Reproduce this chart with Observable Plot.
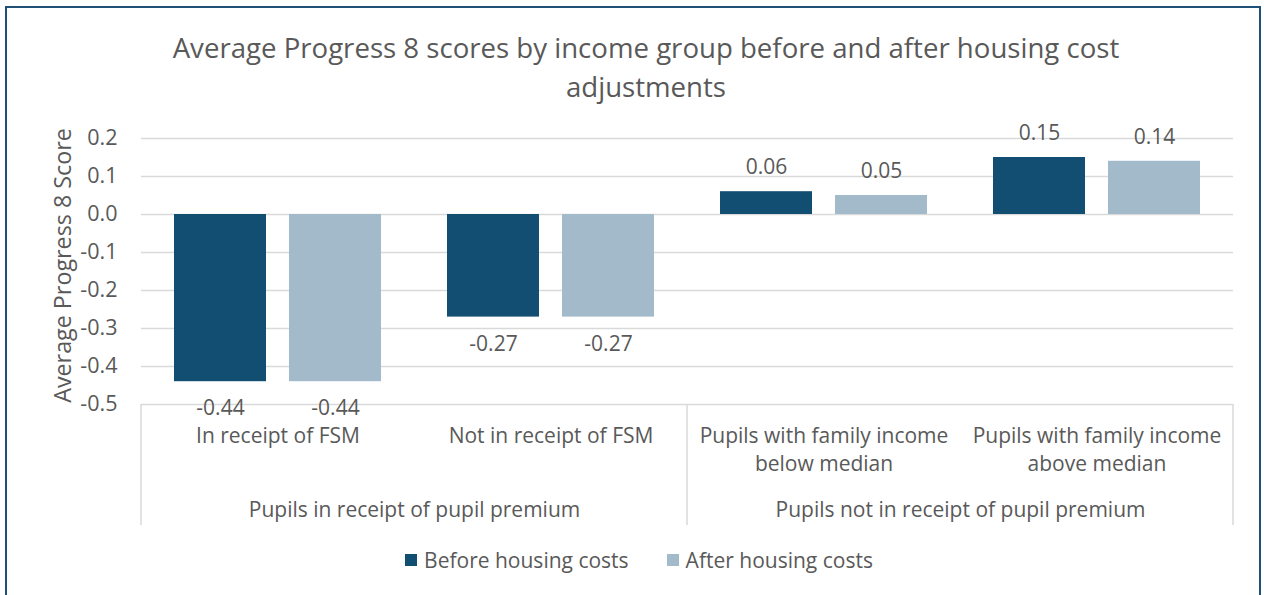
<!DOCTYPE html>
<html>
<head>
<meta charset="utf-8">
<script src="https://cdn.jsdelivr.net/npm/d3@7"></script>
<script src="https://cdn.jsdelivr.net/npm/@observablehq/plot@0.6"></script>
<style>
  html, body { margin: 0; padding: 0; background: #fff; }
  body { width: 1264px; height: 595px; position: relative; overflow: hidden; font-family: "Open Sans", Lato, sans-serif; color: #595959; }
  #border { position: absolute; left: 5px; top: 6px; width: 1256px; height: 600px; border: 2px solid #1F5078; border-bottom: none; box-sizing: border-box; }
  #title { position: absolute; top: 28px; left: 14px; width: 1264px; text-align: center; font-size: 27.6px; line-height: 39px; color: #595959; }
  #chart { position: absolute; top: 110px; left: 0; }
  #legend { position: absolute; top: 546px; left: 0; width: 1264px; display: flex; justify-content: center; gap: 38px; font-size: 21px; color: #595959; padding-left: 14px; box-sizing: border-box; }
  .item { display: flex; align-items: center; gap: 7px; }
  .sw { width: 12px; height: 12px; display: inline-block; }
</style>
</head>
<body>
<div id="border"></div>
<div id="title"></div>
<div id="chart"></div>
<div id="legend"></div>
<script>
// ---- data ----
const titleLines = ["Average Progress 8 scores by income group before and after housing cost", "adjustments"];
const yLabel = "Average Progress 8 Score";
const series = ["Before housing costs", "After housing costs"];
const seriesColors = ["#124E72", "#A2BACA"];
const categories = ["In receipt of FSM", "Not in receipt of FSM", "Pupils with family income\nbelow median", "Pupils with family income\nabove median"];
const groups = ["Pupils in receipt of pupil premium", "Pupils not in receipt of pupil premium"];
const categoryGroup = [0, 0, 1, 1];
const beforeValues = [-0.44, -0.27, 0.06, 0.15];
const afterValues = [-0.44, -0.27, 0.05, 0.14];
const yTicks = [-0.5, -0.4, -0.3, -0.2, -0.1, 0.0, 0.1, 0.2];

// ---- build table ----
const rows = [];
categories.forEach((c, i) => {
  rows.push({category: c, series: series[0], value: beforeValues[i]});
  rows.push({category: c, series: series[1], value: afterValues[i]});
});
// group labels anchored at the left edge of the second category in each group
const groupRows = groups.map((g, gi) => {
  const cats = categories.filter((c, i) => categoryGroup[i] === gi);
  return {group: g, anchorCat: cats[1]};
});

document.getElementById("title").innerHTML = titleLines.join("<br>");

const textColor = "#595959";
const gridColor = "#D9D9D9";
const font = "'Open Sans', Lato, sans-serif";

const plot = Plot.plot({
  width: 1264,
  height: 425,
  marginTop: 28,
  marginBottom: 131,
  marginLeft: 140,
  marginRight: 30,
  style: {fontFamily: font, color: textColor, background: "transparent"},
  fx: {domain: categories, padding: 0, axis: null, label: null},
  x: {domain: series, paddingInner: 0.2, paddingOuter: 0.28, axis: null, label: null},
  y: {domain: [-0.5, 0.2], label: null},
  color: {domain: series, range: seriesColors},
  marks: [
    Plot.gridY(yTicks, {stroke: gridColor, strokeOpacity: 1, strokeWidth: 1.5}),
    Plot.axisY(yTicks, {tickSize: 0, tickPadding: 24, tickFormat: d => d.toFixed(1), fontSize: 21.5, fill: textColor, label: null}),
    Plot.barY(rows, {fx: "category", x: "series", y: "value", fill: "series"}),
    Plot.text(rows.filter(d => d.value >= 0), {fx: "category", x: "series", y: "value", text: d => d.value.toFixed(2), dy: -24, fontSize: 21, fill: textColor}),
    Plot.text(rows.filter(d => d.value < 0), {fx: "category", x: "series", y: "value", text: d => d.value.toFixed(2), dy: 27, fontSize: 21, fill: textColor}),
    Plot.text(categories, {fx: d => d, text: d => d, frameAnchor: "bottom", lineAnchor: "top", dy: 18, lineHeight: 1.35, fontSize: 21, fill: textColor}),
    Plot.text(groupRows, {fx: "anchorCat", text: "group", frameAnchor: "bottom-left", textAnchor: "middle", lineAnchor: "middle", dy: 106, fontSize: 21, fill: textColor}),
    Plot.text([yLabel], {fx: () => categories[0], text: d => d, frameAnchor: "left", textAnchor: "middle", rotate: -90, lineAnchor: "middle", dx: -78, dy: -6, fontSize: 23.3, fill: textColor})
  ]
});

// group separator lines of the multi-level category axis, positioned from Plot's scales
const fx = plot.scale("fx");
const y = plot.scale("y");
const bw = fx.bandwidth;
const sepX = [];
groups.forEach((g, gi) => {
  const idx = categories.map((c, i) => i).filter(i => categoryGroup[i] === gi);
  sepX.push(fx.apply(categories[idx[0]]));
});
sepX.push(fx.apply(categories[categories.length - 1]) + bw);
const y0 = y.apply(yTicks[0]);
const yEnd = 425 - 10;
const svg = d3.select(plot.tagName.toLowerCase() === "svg" ? plot : plot.querySelector("svg"));
svg.append("g").selectAll("line").data(sepX).join("line")
  .attr("x1", d => d).attr("x2", d => d)
  .attr("y1", y0).attr("y2", yEnd)
  .attr("stroke", gridColor).attr("stroke-width", 1.5);

document.getElementById("chart").appendChild(plot);

// legend
const legend = document.getElementById("legend");
series.forEach((s, i) => {
  const item = document.createElement("div");
  item.className = "item";
  const sw = document.createElement("span");
  sw.className = "sw";
  sw.style.background = seriesColors[i];
  const t = document.createElement("span");
  t.textContent = s;
  item.appendChild(sw);
  item.appendChild(t);
  legend.appendChild(item);
});
</script>
</body>
</html>
